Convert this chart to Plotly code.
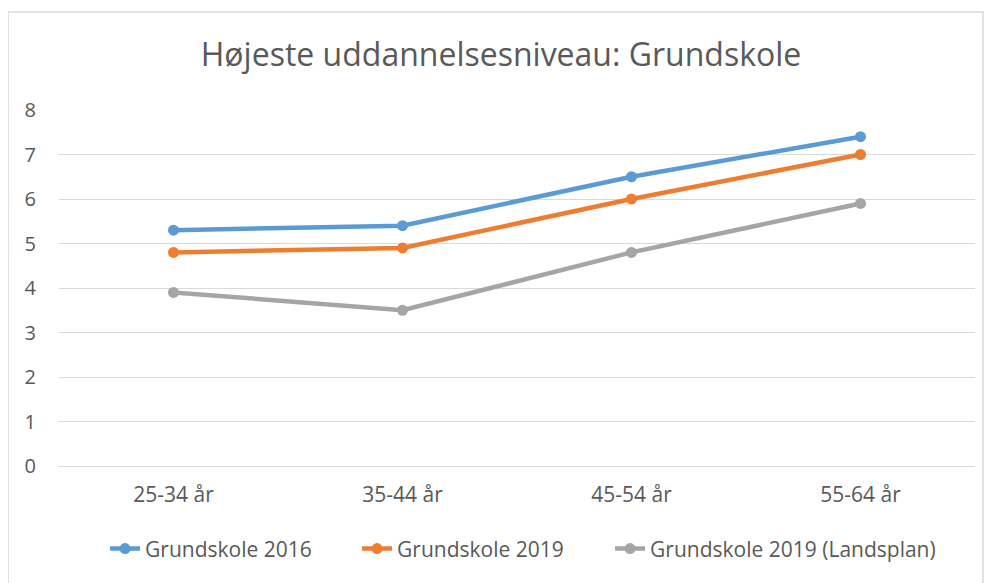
import plotly.graph_objects as go

categories = ["25-34 år", "35-44 år", "45-54 år", "55-64 år"]
grund_2016 = [5.3, 5.4, 6.5, 7.4]
grund_2019 = [4.8, 4.9, 6.0, 7.0]
grund_2019_land = [3.9, 3.5, 4.8, 5.9]
y_ticks = [0, 1, 2, 3, 4, 5, 6, 7, 8]

series = [
    ("Grundskole 2016", grund_2016, "#5B9BD5", "legend", 0.0503),
    ("Grundskole 2019", grund_2019, "#ED7D31", "legend2", 0.3254),
    ("Grundskole 2019 (Landsplan)", grund_2019_land, "#A5A5A5", "legend3", 0.6016),
]

FONT = "'Open Sans', sans-serif"

fig = go.Figure()
legends = {}
for name, vals, col, lg, lx in series:
    fig.add_trace(go.Scatter(
        x=categories, y=vals, name=name, mode="lines+markers",
        line=dict(color=col, width=4.5),
        marker=dict(color=col, size=11),
        legend=lg,
    ))
    legends[lg] = dict(orientation="h", x=lx, xanchor="left", y=-0.233, yanchor="middle",
                       font=dict(size=21, color="#595959"), bgcolor="rgba(0,0,0,0)",
                       borderwidth=0)

# page body has an 8px margin, so figure is 986x575 positioned at (8,8)
fig.update_layout(
    width=986, height=575,
    margin=dict(l=51, r=19, t=102, b=117),
    paper_bgcolor="white", plot_bgcolor="white",
    font=dict(family=FONT, color="#595959", size=21),
    title=dict(text="Højeste uddannelsesniveau: Grundskole", x=0.5, xanchor="center",
               y=1 - 47 / 575, yanchor="middle", font=dict(size=32, color="#595959", family=FONT)),
    xaxis=dict(type="category", range=[-0.5, 3.5], showgrid=False, showline=False,
               ticks="", tickfont=dict(size=21, color="#595959"), ticklabelstandoff=14),
    yaxis=dict(range=[0, 8], tickvals=y_ticks, showgrid=True, gridcolor="#D9D9D9",
               gridwidth=1, zeroline=True, zerolinecolor="#D9D9D9", zerolinewidth=1,
               showline=False, ticks="", tickfont=dict(size=20, color="#595959"),
               ticklabelstandoff=22),
    showlegend=True,
    **legends,
)

fig.add_shape(type="rect", xref="paper", yref="paper",
              x0=-0.0557, x1=1.0087, y0=-0.40, y1=1.275,
              line=dict(color="#D9D9D9", width=1.5), fillcolor="rgba(0,0,0,0)", layer="below")

fig.write_html("out.html")
